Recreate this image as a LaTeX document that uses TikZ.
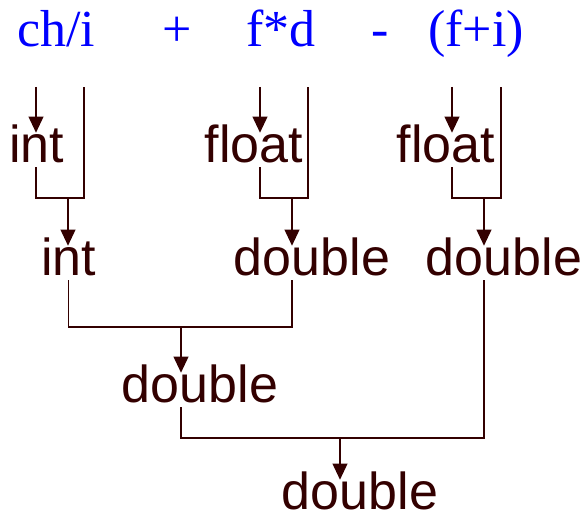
\documentclass[tikz,border=0pt]{standalone}
\usepackage{fontspec}
\setmainfont{Liberation Serif}
\newfontfamily\typefont{Liberation Sans}
\usetikzlibrary{arrows.meta}
\definecolor{exprblue}{HTML}{0000FF}
\definecolor{typebrown}{HTML}{330000}
\tikzset{
  expr/.style={anchor=base,inner sep=0pt,text=exprblue,font=\fontsize{39}{40}\selectfont},
  typ/.style={anchor=base,inner xsep=0pt,inner ysep=3pt,text height=19.5pt,text depth=0pt,text=typebrown,font=\typefont\fontsize{39}{40}\selectfont},
  wire/.style={typebrown,line width=1.3pt},
  arrow/.style={wire,-{Triangle[length=12pt,width=11pt]}}
}

\begin{document}
\begin{tikzpicture}[x=0.75pt,y=-0.75pt]
  \useasboundingbox (0,0) rectangle (587,520);

  % Expression
  \node[expr] (e1) at (56,47) {ch/i};
  \node[expr] (op1) at (177,47) {+};
  \node[expr] (e2) at (281,47) {f*d};
  \node[expr] (op2) at (380,47) {-};
  \node[expr] (e3) at (476,47) {(f+i)};

  % Types
  \node[typ] (int1) at (36.5,163) {int};
  \node[typ] (flt1) at (254,163) {float};
  \node[typ] (flt2) at (446,163) {float};
  \node[typ] (int2) at (68.5,276) {int};
  \node[typ] (dbl1) at (312,276) {double};
  \node[typ] (dbl2) at (504,276) {double};
  \node[typ] (dbl3) at (200,403) {double};
  \node[typ] (dbl4) at (360,510) {double};

  \coordinate (t1a) at (36,87);  \coordinate (t1b) at (84,87);
  \coordinate (t2a) at (260,87); \coordinate (t2b) at (308,87);
  \coordinate (t3a) at (452,87); \coordinate (t3b) at (501,87);
  \coordinate (j1) at (84,198);  \coordinate (m1) at (68,198);
  \coordinate (j2) at (308,198); \coordinate (m2) at (292,198);
  \coordinate (j3) at (501,198); \coordinate (m3) at (484,198);
  \coordinate (k1) at (292,327); \coordinate (n1) at (181,327);
  \coordinate (k2) at (484,438); \coordinate (n2) at (340,438);

  \draw[arrow] (t1a) -- (t1a |- int1.north);
  \draw[arrow] (t2a) -- (t2a |- flt1.north);
  \draw[arrow] (t3a) -- (t3a |- flt2.north);

  \draw[wire] (t1a |- int1.south) |- (j1) -- (t1b);
  \draw[wire] (t2a |- flt1.south) |- (j2) -- (t2b);
  \draw[wire] (t3a |- flt2.south) |- (j3) -- (t3b);

  \draw[arrow] (m1) -- (m1 |- int2.north);
  \draw[arrow] (m2) -- (m2 |- dbl1.north);
  \draw[arrow] (m3) -- (m3 |- dbl2.north);

  \draw[wire] (int2.south) |- (k1) -- (k1 |- dbl1.south);
  \draw[arrow] (n1) -- (n1 |- dbl3.north);

  \draw[wire] (n1 |- dbl3.south) |- (k2) -- (k2 |- dbl2.south);
  \draw[arrow] (n2) -- (n2 |- dbl4.north);
\end{tikzpicture}
\end{document}
